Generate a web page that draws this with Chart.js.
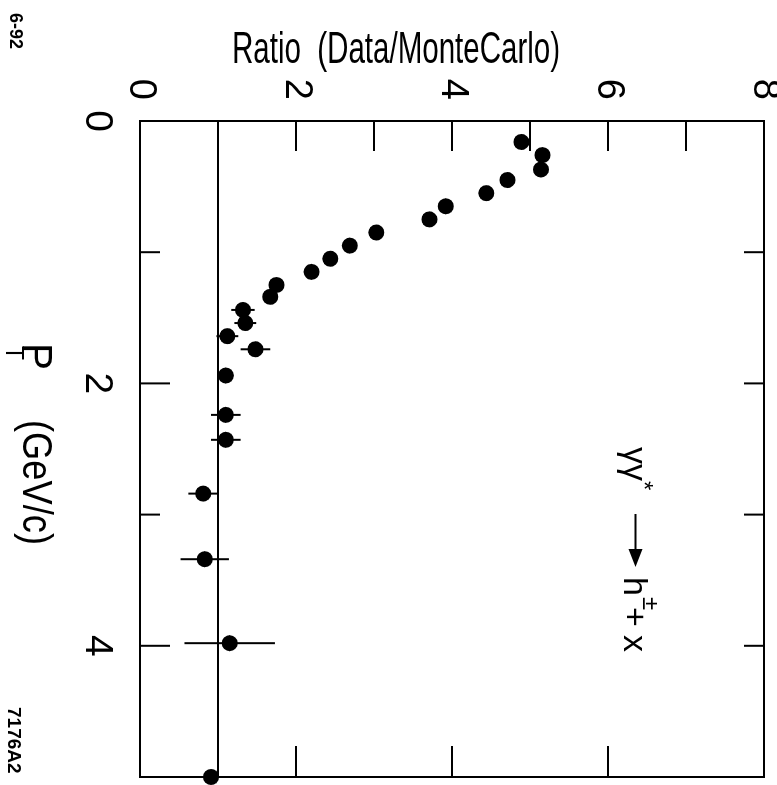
<!DOCTYPE html>
<html>
<head>
<meta charset="utf-8">
<script src="https://cdn.jsdelivr.net/npm/chart.js@4.4.1/dist/chart.umd.min.js"></script>
<style>
  html, body { margin: 0; padding: 0; background: #fff; overflow: hidden; }
  /* the figure is printed sideways: draw it upright, then turn it a quarter clockwise */
  #wrap {
    position: absolute; left: 0; top: 0;
    width: 785px; height: 777px;
    transform-origin: 0 0;
    transform: translate(777px, 0) rotate(90deg);
  }
</style>
</head>
<body>
<div id="wrap"><canvas id="myChart" width="785" height="777"></canvas></div>
<script>
// P_T bins (GeV/c) and Data/MonteCarlo ratio
const ptValues = [0.16, 0.26, 0.37, 0.45, 0.55, 0.65, 0.75, 0.85, 0.95, 1.05, 1.15, 1.25,
  1.34, 1.44, 1.54, 1.64, 1.74, 1.94, 2.24, 2.43, 2.84, 3.34, 3.98, 5.0];
const ratioValues = [4.89, 5.16, 5.14, 4.71, 4.44, 3.92, 3.71, 3.03, 2.69, 2.44, 2.20, 1.75,
  1.67, 1.32, 1.35, 1.12, 1.48, 1.10, 1.10, 1.10, 0.81, 0.83, 1.15, 0.91];
// error on the ratio (0 where hidden inside the dot)
const ratioErrors = [0, 0, 0, 0, 0, 0, 0, 0, 0, 0, 0, 0,
  0, 0.15, 0.14, 0.14, 0.19, 0.1, 0.19, 0.19, 0.19, 0.31, 0.58, 0.8];
const referenceLine = [1, 1];
const ptRange = [0, 5];
const ratioRange = [0, 8];

const FONT = "'Liberation Sans', Arial, Helvetica, sans-serif";

const points = ptValues.map((x, i) => ({ x: x, y: ratioValues[i] }));

// condensed text, like the typeset labels of the original
const narrowText = (ctx, text, x, y, width) => {
  const w = ctx.measureText(text).width;
  ctx.save();
  ctx.translate(x, y);
  ctx.scale(width / w, 1);
  ctx.fillText(text, 0, 0);
  ctx.restore();
};

const noPadding = (scale) => {
  scale.paddingTop = 0;
  scale.paddingBottom = 0;
  scale.paddingLeft = 0;
  scale.paddingRight = 0;
};

// error bars, frame, inward ticks and the texts
const decorations = {
  id: "decorations",
  beforeDatasetsDraw(chart) {
    const ctx = chart.ctx;
    const xs = chart.scales.x;
    const ys = chart.scales.y;
    ctx.save();
    ctx.strokeStyle = "#000";
    ctx.lineWidth = 2;
    ratioErrors.forEach((e, i) => {
      if (!e) return;
      const px = xs.getPixelForValue(ptValues[i]);
      ctx.beginPath();
      ctx.moveTo(px, ys.getPixelForValue(ratioValues[i] - e));
      ctx.lineTo(px, ys.getPixelForValue(ratioValues[i] + e));
      ctx.stroke();
    });
    ctx.restore();
  },
  afterDraw(chart) {
    const ctx = chart.ctx;
    const a = chart.chartArea;
    const xs = chart.scales.x;
    const ys = chart.scales.y;
    ctx.save();
    ctx.strokeStyle = "#000";
    ctx.fillStyle = "#000";
    ctx.lineWidth = 2;
    ctx.strokeRect(a.left, a.top, a.right - a.left, a.bottom - a.top);

    ctx.beginPath();
    // ratio ticks
    for (let r = 2; r <= 7; r++) {
      const py = ys.getPixelForValue(r);
      ctx.moveTo(a.left, py);
      ctx.lineTo(a.left + 30, py);
      if (r % 2 === 0) {
        ctx.moveTo(a.right, py);
        ctx.lineTo(a.right - 31, py);
      }
    }
    // pt ticks
    for (let p = 1; p <= 4; p++) {
      const px = xs.getPixelForValue(p);
      ctx.moveTo(px, a.bottom);
      ctx.lineTo(px, a.bottom - (p % 2 === 0 ? 30 : 20));
      ctx.moveTo(px, a.top);
      ctx.lineTo(px, a.top + 20);
    }
    ctx.stroke();

    // axis titles
    ctx.save();
    ctx.translate(63, 545);
    ctx.rotate(-Math.PI / 2);
    ctx.font = "44px " + FONT;
    narrowText(ctx, "Ratio  (Data/MonteCarlo)", 0, 0, 328);
    ctx.restore();

    ctx.font = "42px " + FONT;
    narrowText(ctx, "P", 343, 754, 27);
    ctx.font = "26px " + FONT;
    narrowText(ctx, "T", 346, 771, 14);
    ctx.font = "42px " + FONT;
    narrowText(ctx, "(GeV/c)", 420, 754, 125);

    // process label
    const u = xs.getPixelForValue(2.5);
    const v = ys.getPixelForValue(6.2);
    ctx.font = "34px " + FONT;
    ctx.fillText("\u03b3\u03b3", u - 2, v);
    ctx.fillText("h", u + 128, v);
    ctx.fillText("+", u + 158, v);
    ctx.fillText("x", u + 186, v);
    ctx.font = "24px " + FONT;
    ctx.fillText("*", u + 32, v - 12);
    ctx.fillText("\u00b1", u + 148, v - 19);
    ctx.beginPath();
    ctx.moveTo(u + 65, v - 12);
    ctx.lineTo(u + 110, v - 12);
    ctx.stroke();
    ctx.beginPath();
    ctx.moveTo(u + 118, v - 12);
    ctx.lineTo(u + 100, v - 19);
    ctx.lineTo(u + 100, v - 5);
    ctx.closePath();
    ctx.fill();

    // plate numbers
    ctx.font = "bold 18px " + FONT;
    ctx.fillText("6-92", 13, 767);
    ctx.font = "bold 19px " + FONT;
    ctx.fillText("7176A2", 707, 769);
    ctx.restore();
  }
};

const ctx = document.getElementById("myChart");
const myChart = new Chart(ctx, {
  type: "scatter",
  data: {
    datasets: [
      {
        data: points,
        backgroundColor: "#000",
        borderWidth: 0,
        pointRadius: 8,
        clip: false,
      },
      {
        type: "line",
        data: ptRange.map((x, i) => ({ x: x, y: referenceLine[i] })),
        borderColor: "#000",
        borderWidth: 2,
        pointRadius: 0,
      },
    ],
  },
  options: {
    responsive: false,
    animation: false,
    devicePixelRatio: 1,
    layout: { padding: { top: 13, right: 8, left: 0, bottom: 0 } },
    plugins: { legend: { display: false }, tooltip: { enabled: false } },
    scales: {
      x: {
        type: "linear",
        min: ptRange[0],
        max: ptRange[1],
        grid: { display: false, drawTicks: false },
        border: { display: false },
        ticks: {
          stepSize: 2,
          includeBounds: false,
          color: "#000",
          padding: 20,
          maxRotation: 0,
          font: { family: FONT, size: 39 },
        },
        afterFit(scale) {
          scale.height = 140;
          noPadding(scale);
        },
      },
      y: {
        min: ratioRange[0],
        max: ratioRange[1],
        grid: { display: false, drawTicks: false },
        border: { display: false },
        ticks: {
          stepSize: 2,
          color: "#000",
          padding: 21,
          font: { family: FONT, size: 38 },
        },
        afterFit(scale) {
          scale.width = 121;
          noPadding(scale);
        },
      },
    },
  },
  plugins: [decorations],
});
</script>
</body>
</html>
